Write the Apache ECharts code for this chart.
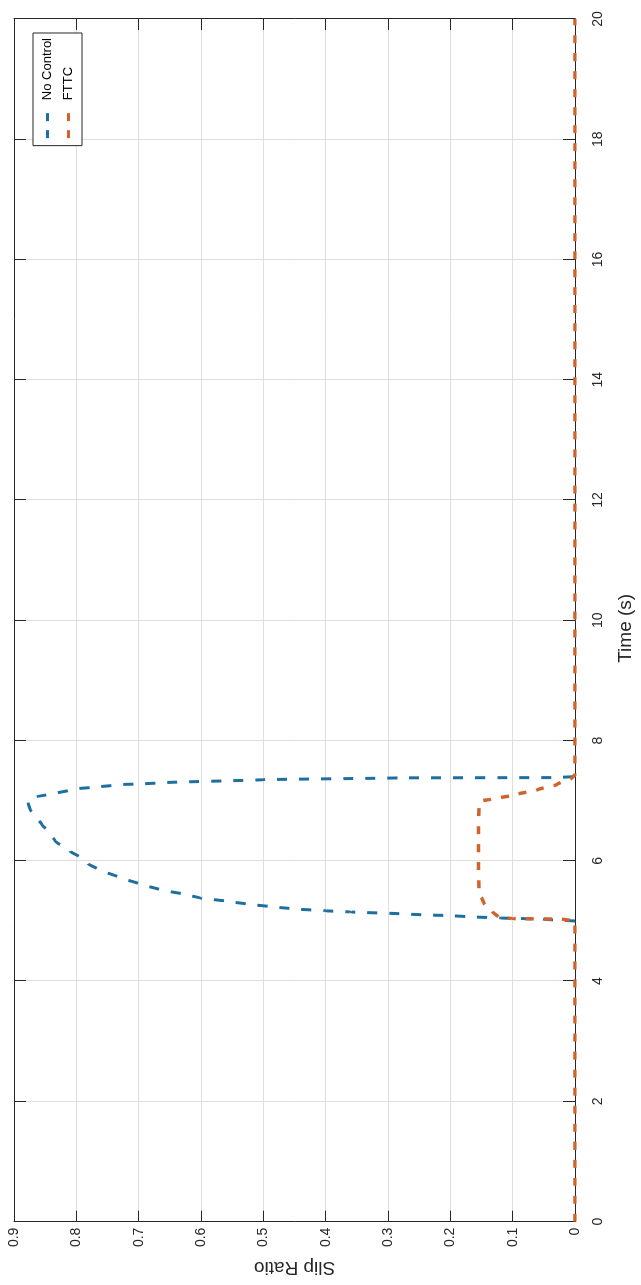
<!DOCTYPE html>
<html>
<head>
<meta charset="utf-8">
<script src="https://cdn.jsdelivr.net/npm/echarts@6/dist/echarts.min.js"></script>
<style>
  html, body { margin: 0; padding: 0; background: #fff; overflow: hidden; width: 641px; height: 1285px; }
  #frame {
    position: fixed; left: 0; top: 0;
    width: 641px; height: 1285px;
    overflow: hidden;
  }
  /* The figure is laid out landscape and turned a quarter turn counter-clockwise */
  #chart {
    position: absolute; left: 0; top: 0;
    width: 1285px; height: 641px;
    transform-origin: 0 0;
    transform: translateY(1285px) rotate(-90deg);
  }
</style>
</head>
<body>
<div id="frame"><div id="chart"></div></div>
<script>
// Time axis (s)
const timeMin = 0, timeMax = 20, timeStep = 2;
// Slip ratio axis
const slipMin = 0, slipMax = 0.9, slipStep = 0.1;

const seriesNames = ['No Control', 'FTTC'];

// No Control: slip ratio vs time (the wheel-slip event between 5 s and 7.4 s)
const noControlTime = [5.0, 5.03, 5.05, 5.07, 5.09, 5.1, 5.12, 5.15, 5.17, 5.2, 5.24, 5.28, 5.33, 5.38, 5.45, 5.52, 5.62, 5.73, 5.86, 5.95, 6.06, 6.16, 6.33, 6.49, 6.6, 6.77, 6.85, 6.95, 7.02, 7.07, 7.12, 7.2, 7.23, 7.27, 7.28, 7.3, 7.35, 7.38, 7.385, 7.4];
const noControlSlip = [0, 0.05, 0.12, 0.17, 0.2, 0.24, 0.28, 0.36, 0.4, 0.45, 0.49, 0.525, 0.56, 0.6, 0.63, 0.666, 0.7, 0.733, 0.765, 0.781, 0.794, 0.81, 0.834, 0.845, 0.855, 0.868, 0.874, 0.877, 0.878, 0.863, 0.834, 0.799, 0.764, 0.727, 0.693, 0.661, 0.5, 0.28, 0.03, 0];

// FTTC: slip ratio vs time
const fttcTime = [0, 5.0, 5.03, 5.04, 5.06, 5.15, 5.3, 5.37, 5.45, 6.0, 6.5, 6.94, 7.0, 7.02, 7.1, 7.18, 7.27, 7.38, 7.43, 20];
const fttcSlip = [0, 0, 0.02, 0.1, 0.122, 0.132, 0.146, 0.149, 0.154, 0.155, 0.155, 0.154, 0.15, 0.136, 0.096, 0.061, 0.029, 0.005, 0, 0];

const pairs = (t, s) => t.map((v, i) => [v, s[i]]);

const ink = '#262626';
const gridColor = '#dedede';
const font = 'Liberation Sans, Arial, sans-serif';

const chart = echarts.init(document.getElementById('chart'), null, { renderer: 'canvas', width: 1285, height: 641 });

const timeAxisBase = {
  type: 'value', min: timeMin, max: timeMax, interval: timeStep,
  axisLine: { show: true, onZero: false, lineStyle: { color: ink, width: 1 } },
  axisTick: { show: true, inside: true, length: 12, lineStyle: { color: ink } }
};
const slipAxisBase = {
  type: 'value', min: slipMin, max: slipMax, interval: slipStep,
  axisLine: { show: true, onZero: false, lineStyle: { color: ink, width: 1 } },
  axisTick: { show: true, inside: true, length: 11, lineStyle: { color: ink } }
};

chart.setOption({
  animation: false,
  backgroundColor: '#fff',
  textStyle: { fontFamily: font },
  grid: { left: 55, right: 19, top: 14, bottom: 66, containLabel: false },
  legend: {
    data: seriesNames,
    orient: 'vertical',
    right: 33, top: 33,
    itemWidth: 25, itemHeight: 14, itemGap: 8,
    padding: [8, 5, 7, 6],
    backgroundColor: '#fff',
    borderColor: ink, borderWidth: 1, borderRadius: 0,
    textStyle: { fontFamily: font, fontSize: 13, color: '#000', padding: [0, 0, 0, 8] },
    lineStyle: { type: [8, 9], width: 3 },
    itemStyle: { opacity: 0 }
  },
  xAxis: [
    Object.assign({}, timeAxisBase, {
      position: 'bottom',
      name: 'Time (s)', nameLocation: 'middle', nameGap: 41,
      nameTextStyle: { fontFamily: font, fontSize: 19, color: ink, padding: [0, 16, 0, 0] },
      axisLabel: { margin: 16, fontSize: 14, color: ink, fontFamily: font },
      splitLine: { show: true, lineStyle: { color: gridColor, width: 1 } }
    }),
    Object.assign({}, timeAxisBase, {
      position: 'top',
      axisLabel: { show: false },
      splitLine: { show: false }
    })
  ],
  yAxis: [
    Object.assign({}, slipAxisBase, {
      position: 'left',
      name: 'Slip Ratio', nameLocation: 'middle', nameGap: 33, nameRotate: 90,
      nameTextStyle: { fontFamily: font, fontSize: 19, color: ink },
      axisLabel: { margin: 6, fontSize: 14, color: ink, fontFamily: font },
      splitLine: { show: true, lineStyle: { color: gridColor, width: 1 } }
    }),
    Object.assign({}, slipAxisBase, {
      position: 'right',
      axisLabel: { show: false },
      splitLine: { show: false }
    })
  ],
  series: [
    {
      name: seriesNames[0], type: 'line',
      xAxisIndex: 0, yAxisIndex: 0,
      data: pairs(noControlTime, noControlSlip),
      symbol: 'none', smooth: 0.15, smoothMonotone: 'x',
      lineStyle: { color: '#1d6fa0', width: 3, type: [10, 12] },
      itemStyle: { color: '#1d6fa0' },
      z: 2
    },
    {
      name: seriesNames[1], type: 'line',
      xAxisIndex: 0, yAxisIndex: 0,
      data: pairs(fttcTime, fttcSlip),
      symbol: 'none', smooth: 0.2, smoothMonotone: 'x',
      lineStyle: { color: '#d0632c', width: 3.5, type: [8, 10] },
      itemStyle: { color: '#d0632c' },
      z: 3
    }
  ]
});
</script>
</body>
</html>
